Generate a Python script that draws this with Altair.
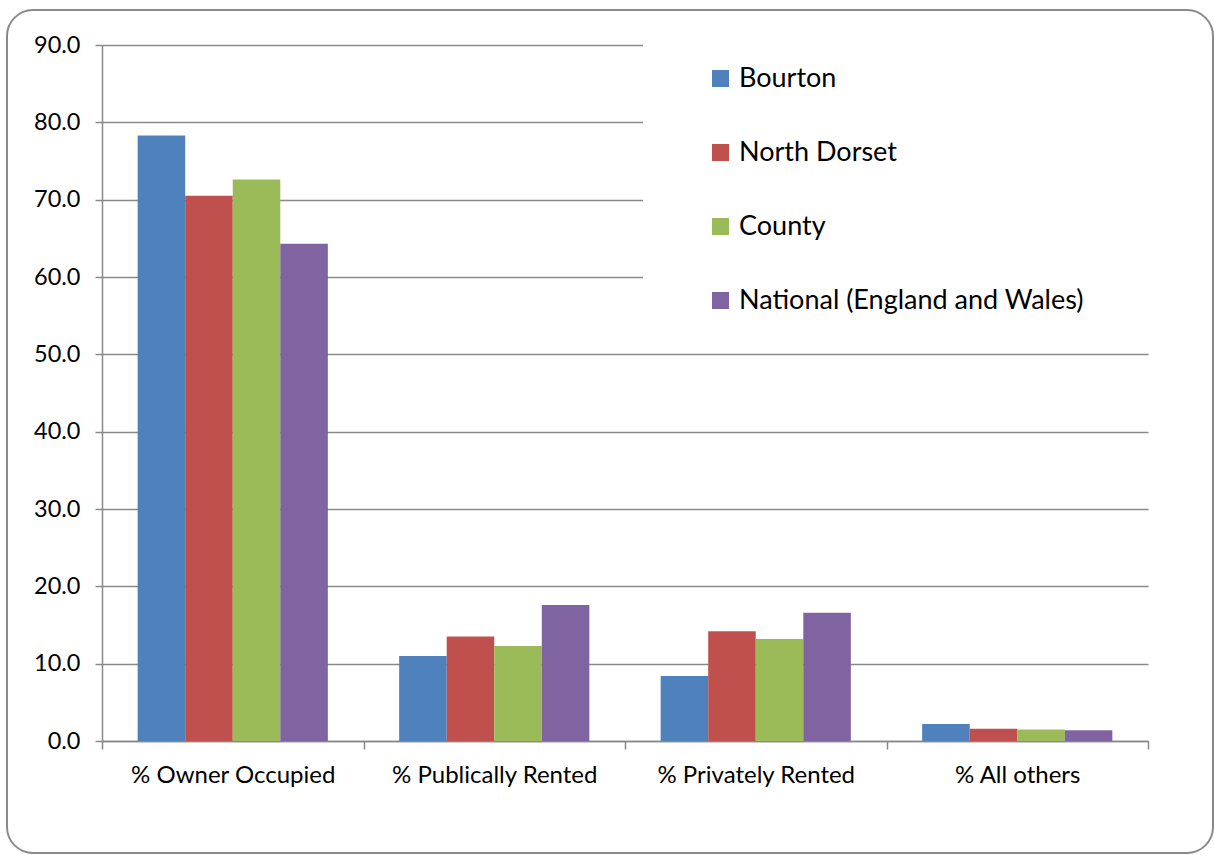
import altair as alt
import pandas as pd

# Housing tenure shares (%) by area
categories = ["% Owner Occupied", "% Publically Rented", "% Privately Rented", "% All others"]
areas = ["Bourton", "North Dorset", "County", "National (England and Wales)"]
bourton = [78.3, 11.0, 8.4, 2.2]
north_dorset = [70.5, 13.5, 14.2, 1.6]
county = [72.6, 12.3, 13.2, 1.5]
national = [64.3, 17.6, 16.6, 1.4]
colors = ["#4F81BD", "#C0504D", "#9BBB59", "#8064A2"]

rows = []
for area, vals in zip(areas, [bourton, north_dorset, county, national]):
    for cat, v in zip(categories, vals):
        rows.append({"category": cat, "area": area, "value": v})
df = pd.DataFrame(rows)
one = pd.DataFrame({"k": [0]})

W, H = 1046, 696
FONT = "Lato"
GRID = "#898989"

# rounded outer frame around the whole chart
frame = alt.Chart(one).mark_rect(
    fill="transparent", stroke="#8a8a8a", strokeWidth=2, cornerRadius=26
).encode(x=alt.value(-95), x2=alt.value(1111), y=alt.value(-35), y2=alt.value(808))

# white panel behind the legend
panel = alt.Chart(one).mark_rect(fill="white").encode(
    x=alt.value(541), x2=alt.value(W + 2), y=alt.value(-2), y2=alt.value(290)
)

bars = alt.Chart(df).mark_bar().encode(
    x=alt.X(
        "category:N",
        sort=categories,
        scale=alt.Scale(paddingInner=0, paddingOuter=0),
        axis=alt.Axis(
            title=None, labelAngle=0, tickBand="extent", tickSize=8,
            labelPadding=14, labelFontSize=24, labelLimit=400, grid=False,
        ),
    ),
    xOffset=alt.XOffset("area:N", sort=areas, scale=alt.Scale(paddingInner=0, paddingOuter=0.75)),
    y=alt.Y(
        "value:Q",
        scale=alt.Scale(domain=[0, 90], nice=False),
        axis=alt.Axis(
            title=None, values=list(range(0, 91, 10)), format=".1f",
            tickSize=7, labelPadding=15, labelFontSize=23.5, grid=True,
        ),
    ),
    color=alt.Color(
        "area:N",
        sort=areas,
        scale=alt.Scale(domain=areas, range=colors),
        legend=alt.Legend(
            title=None, orient="none", legendX=605, legendY=20, direction="vertical",
            symbolType="square", symbolSize=289, symbolStrokeWidth=0,
            labelFontSize=27, labelOffset=5, rowPadding=46, padding=0, labelLimit=500,
        ),
    ),
)

chart = (
    alt.layer(frame, panel, bars)
    .properties(
        width=W, height=H,
        autosize=alt.AutoSizeParams(type="none"),
        padding={"left": 102, "top": 45, "right": 66, "bottom": 114},
        background="white",
    )
    .configure_view(stroke=None)
    .configure_axis(
        domainColor=GRID, domainWidth=1.5, tickColor=GRID, tickWidth=1.5,
        gridColor=GRID, gridWidth=1.5, labelColor="#000000", labelFont=FONT,
    )
    .configure_legend(labelFont=FONT, labelColor="#000000")
)

chart.save("out.html", embed_options={"renderer": "svg", "actions": False})
